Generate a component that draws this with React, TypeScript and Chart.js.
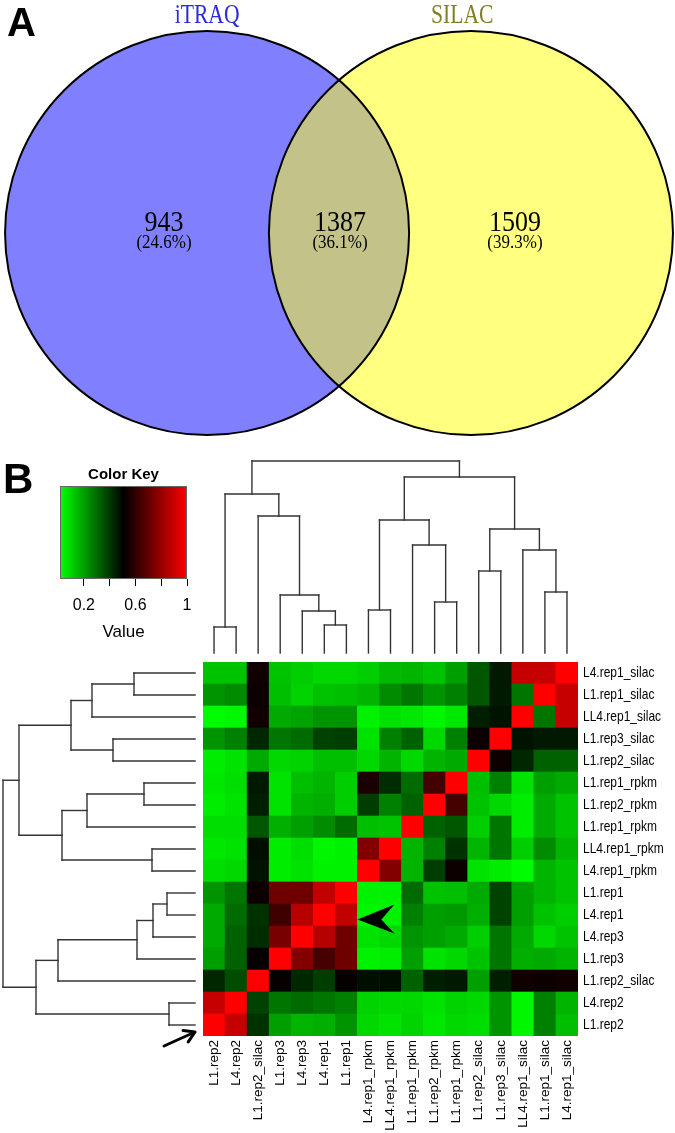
import React, { useEffect, useRef } from "react";
import { Chart, registerables } from "chart.js";
Chart.register(...registerables);

// ---------------- Panel A: Venn data ----------------
const vennSetNames = ["iTRAQ", "SILAC"];
const vennRegionCounts = [943, 1387, 1509]; // iTRAQ only, shared, SILAC only

// ---------------- Panel B: heatmap data ----------------
const rowLabels = [
  "L4.rep1_silac", "L1.rep1_silac", "LL4.rep1_silac", "L1.rep3_silac", "L1.rep2_silac",
  "L1.rep1_rpkm", "L1.rep2_rpkm", "L1.rep1_rpkm", "LL4.rep1_rpkm", "L4.rep1_rpkm",
  "L1.rep1", "L4.rep1", "L4.rep3", "L1.rep3", "L1.rep2_silac", "L4.rep2", "L1.rep2",
];
const colLabels = [
  "L1.rep2", "L4.rep2", "L1.rep2_silac", "L1.rep3", "L4.rep3", "L4.rep1", "L1.rep1",
  "L4.rep1_rpkm", "LL4.rep1_rpkm", "L1.rep1_rpkm", "L1.rep2_rpkm", "L1.rep1_rpkm",
  "L1.rep2_silac", "L1.rep3_silac", "LL4.rep1_silac", "L1.rep1_silac", "L4.rep1_silac",
];
// rows top -> bottom, columns left -> right
const heatValues = [
  [0.13, 0.13, 0.54, 0.13, 0.11, 0.09, 0.09, 0.11, 0.15, 0.16, 0.13, 0.20, 0.34, 0.46, 0.89, 0.89, 1.00],
  [0.22, 0.24, 0.53, 0.14, 0.10, 0.13, 0.14, 0.16, 0.24, 0.28, 0.22, 0.26, 0.34, 0.46, 0.28, 1.00, 0.89],
  [0.02, 0.03, 0.54, 0.18, 0.19, 0.22, 0.22, 0.04, 0.07, 0.06, 0.03, 0.06, 0.45, 0.47, 1.00, 0.28, 0.89],
  [0.22, 0.26, 0.43, 0.28, 0.30, 0.38, 0.39, 0.07, 0.26, 0.32, 0.09, 0.26, 0.53, 1.00, 0.47, 0.46, 0.46],
  [0.05, 0.07, 0.18, 0.09, 0.10, 0.14, 0.14, 0.09, 0.16, 0.09, 0.16, 0.18, 1.00, 0.53, 0.43, 0.32, 0.32],
  [0.06, 0.08, 0.46, 0.07, 0.14, 0.16, 0.11, 0.56, 0.42, 0.30, 0.64, 1.00, 0.14, 0.26, 0.07, 0.20, 0.18],
  [0.05, 0.07, 0.45, 0.07, 0.16, 0.17, 0.11, 0.39, 0.26, 0.32, 1.00, 0.64, 0.13, 0.09, 0.05, 0.18, 0.13],
  [0.08, 0.08, 0.34, 0.17, 0.20, 0.24, 0.30, 0.14, 0.13, 1.00, 0.32, 0.34, 0.11, 0.28, 0.05, 0.18, 0.13],
  [0.06, 0.07, 0.48, 0.05, 0.08, 0.03, 0.04, 0.76, 1.00, 0.16, 0.26, 0.41, 0.16, 0.28, 0.11, 0.24, 0.16],
  [0.08, 0.09, 0.47, 0.05, 0.07, 0.04, 0.04, 1.00, 0.76, 0.16, 0.39, 0.53, 0.07, 0.05, 0.02, 0.16, 0.13],
  [0.22, 0.28, 0.53, 0.72, 0.72, 0.88, 1.00, 0.04, 0.04, 0.30, 0.13, 0.14, 0.18, 0.38, 0.20, 0.16, 0.13],
  [0.18, 0.30, 0.41, 0.63, 0.86, 1.00, 0.88, 0.03, 0.04, 0.26, 0.20, 0.21, 0.17, 0.38, 0.20, 0.13, 0.11],
  [0.18, 0.32, 0.42, 0.74, 1.00, 0.86, 0.72, 0.07, 0.09, 0.22, 0.20, 0.18, 0.11, 0.28, 0.18, 0.09, 0.13],
  [0.20, 0.32, 0.52, 1.00, 0.76, 0.64, 0.72, 0.04, 0.05, 0.20, 0.07, 0.09, 0.13, 0.28, 0.17, 0.18, 0.16],
  [0.43, 0.36, 1.00, 0.52, 0.43, 0.39, 0.52, 0.48, 0.48, 0.32, 0.45, 0.46, 0.20, 0.45, 0.54, 0.53, 0.54],
  [0.89, 1.00, 0.38, 0.28, 0.30, 0.28, 0.26, 0.10, 0.09, 0.09, 0.07, 0.10, 0.09, 0.22, 0.03, 0.26, 0.16],
  [1.00, 0.89, 0.41, 0.20, 0.16, 0.17, 0.22, 0.09, 0.07, 0.10, 0.06, 0.09, 0.08, 0.22, 0.03, 0.26, 0.14],
];
// hierarchical clustering (R hclust style: negative = leaf (row index+1), positive = earlier merge)
const mergePairs = [
  [-1, -2], [-3, 1], [-4, -5], [2, 3], [-6, -7], [-8, 5], [-9, -10], [6, 7], [4, 8],
  [-11, -12], [10, -13], [11, -14], [12, -15], [-16, -17], [13, 14], [9, 15],
];
const mergeHeights = [0.61, 1.03, 0.82, 1.24, 0.51, 1.08, 0.43, 1.33, 1.76, 0.28, 0.42, 0.58, 1.37, 0.26, 1.59, 1.92];

// color key
const keyRange = [0.015, 1.0];
const keyTickValues = [0.2, 0.4, 0.6, 0.8, 1.0];
const keyTickLabels = ["0.2", "", "0.6", "", "1"];

// ---------------- styling / layout constants ----------------
const SANS = "'Liberation Sans', Arial, sans-serif";
const SERIF = "'Liberation Serif', 'Times New Roman', serif";
const VENN = {
  offset: 0.653, radius: 1,
  xMin: -1.678, xMax: 1.663, yMin: -1.049, yMax: 1.154,
  labelX: [-0.866, 0.005, 0.871], countY: 0.05, pctY: -0.049,
  titleX: [-0.653, 0.61], titleY: 1.075,
  fills: ["#8080FF", "#FFFF80"], overlap: "#C2C289",
  titleColors: ["#2B2BD9", "#808026"],
};

function valueToColor(v: number): string {
  const t = Math.max(0, Math.min(1, (v - keyRange[0]) / (keyRange[1] - keyRange[0])));
  if (t < 0.5) {
    const g = Math.round(255 * (1 - t / 0.5));
    return `rgb(0,${g},0)`;
  }
  const r = Math.round(255 * ((t - 0.5) / 0.5));
  return `rgb(${r},0,0)`;
}

function scaledText(
  ctx: CanvasRenderingContext2D, text: string, x: number, y: number, font: string, color: string,
  sx = 1, sy = 1, align: CanvasTextAlign = "center",
) {
  ctx.save();
  ctx.translate(x, y);
  ctx.scale(sx, sy);
  ctx.font = font;
  ctx.fillStyle = color;
  ctx.textAlign = align;
  ctx.textBaseline = "middle";
  ctx.fillText(text, 0, 0);
  ctx.restore();
}

// ---------------- Venn panel ----------------
function VennPanel() {
  const ref = useRef<HTMLCanvasElement>(null);
  useEffect(() => {
    const total = vennRegionCounts.reduce((a, b) => a + b, 0);
    const vennPlugin = {
      id: "venn",
      beforeDatasetsDraw(chart: any) {
        const ctx: CanvasRenderingContext2D = chart.ctx;
        const xs = chart.scales.x, ys = chart.scales.y;
        const px = (v: number) => xs.getPixelForValue(v);
        const py = (v: number) => ys.getPixelForValue(v);
        const rx = px(VENN.radius) - px(0);
        const ry = py(0) - py(VENN.radius);
        const centers = [-VENN.offset, VENN.offset];
        const path = (i: number) => {
          ctx.beginPath();
          ctx.ellipse(px(centers[i]), py(0), rx, ry, 0, 0, Math.PI * 2);
        };
        ctx.save();
        path(0); ctx.fillStyle = VENN.fills[0]; ctx.fill();
        path(1); ctx.fillStyle = VENN.fills[1]; ctx.fill();
        ctx.save(); path(0); ctx.clip(); path(1); ctx.fillStyle = VENN.overlap; ctx.fill(); ctx.restore();
        ctx.lineWidth = 2; ctx.strokeStyle = "#000";
        path(0); ctx.stroke(); path(1); ctx.stroke();
        ctx.restore();
        vennRegionCounts.forEach((c, i) => {
          const x = px(VENN.labelX[i]);
          scaledText(ctx, String(c), x, py(VENN.countY), `26px ${SERIF}`, "#000", 1, 1.12);
          scaledText(ctx, `(${((c / total) * 100).toFixed(1)}%)`, x, py(VENN.pctY), `17px ${SERIF}`, "#000", 1, 1.05);
        });
        vennSetNames.forEach((n, i) => {
          scaledText(ctx, n, px(VENN.titleX[i]), py(VENN.titleY), `24px ${SERIF}`, VENN.titleColors[i], 0.9, 1.15);
        });
        ctx.save();
        ctx.font = `bold 40px ${SANS}`;
        ctx.fillStyle = "#000";
        ctx.textAlign = "left";
        ctx.textBaseline = "alphabetic";
        ctx.fillText("A", chart.chartArea.left + 7, chart.chartArea.top + 36);
        ctx.restore();
      },
    };
    const chart = new Chart(ref.current!, {
      type: "scatter",
      data: { datasets: [{ data: [] }] },
      options: {
        animation: false,
        responsive: false,
        layout: { padding: 0 },
        plugins: { legend: { display: false }, tooltip: { enabled: false } },
        scales: {
          x: { type: "linear", min: VENN.xMin, max: VENN.xMax, display: false },
          y: { type: "linear", min: VENN.yMin, max: VENN.yMax, display: false },
        },
      },
      plugins: [vennPlugin],
    } as any);
    return () => chart.destroy();
  }, []);
  return (
    <div style={{ position: "absolute", left: 0, top: 0, width: 675, height: 445 }}>
      <canvas ref={ref} width={675} height={445} />
    </div>
  );
}

// ---------------- Heatmap panel ----------------
function HeatmapPanel() {
  const ref = useRef<HTMLCanvasElement>(null);
  useEffect(() => {
    const nRows = rowLabels.length;
    const datasets = rowLabels.map((_, k) => {
      const r = nRows - 1 - k; // bottom row stacked first
      return {
        label: rowLabels[r],
        data: colLabels.map(() => 1),
        backgroundColor: heatValues[r].map(valueToColor),
        borderWidth: 0,
        barPercentage: 1,
        categoryPercentage: 1,
        stack: "cells",
      };
    });

    const maxH = Math.max(...mergeHeights);
    const drawDendro = (
      leafPos: (leaf: number) => number,
      seg: (p1: number, h1: number, p2: number, h2: number) => void,
    ) => {
      const pos: number[] = [];
      const hgt: number[] = [];
      mergePairs.forEach(([a, b], i) => {
        const get = (n: number) => (n < 0 ? [leafPos(-n - 1), 0] : [pos[n - 1], hgt[n - 1]]);
        const [pa, ha] = get(a);
        const [pb, hb] = get(b);
        const h = mergeHeights[i];
        seg(pa, ha, pa, h);
        seg(pb, hb, pb, h);
        seg(pa, h, pb, h);
        pos[i] = (pa + pb) / 2;
        hgt[i] = h;
      });
    };

    const heatPlugin = {
      id: "heatExtras",
      afterDraw(chart: any) {
        const ctx: CanvasRenderingContext2D = chart.ctx;
        const xs = chart.scales.x, ys = chart.scales.y;
        const area = chart.chartArea;
        const span = 192;
        const scale = span / maxH;

        // row labels (right side), slightly tall glyphs as in the original
        ys.ticks.forEach((t: any) => {
          const label = rowLabels[nRows - 1 - Math.floor(t.value)];
          scaledText(ctx, label, area.right + 5, ys.getPixelForValue(t.value), `12px ${SANS}`, "#000", 1, 1.2, "left");
        });

        ctx.save();
        ctx.strokeStyle = "#333";
        ctx.lineWidth = 1.4;
        ctx.lineCap = "square";
        const topBase = area.top - 9;
        drawDendro((leaf) => xs.getPixelForValue(nRows - 1 - leaf), (p1, h1, p2, h2) => {
          ctx.beginPath();
          ctx.moveTo(p1, topBase - h1 * scale);
          ctx.lineTo(p2, topBase - h2 * scale);
          ctx.stroke();
        });
        const leftBase = area.left - 8;
        drawDendro((leaf) => ys.getPixelForValue(nRows - 1 - leaf + 0.5), (p1, h1, p2, h2) => {
          ctx.beginPath();
          ctx.moveTo(leftBase - h1 * scale, p1);
          ctx.lineTo(leftBase - h2 * scale, p2);
          ctx.stroke();
        });
        ctx.restore();

        // arrow at bottom-left corner
        ctx.save();
        const tipX = xs.getPixelForValue(-0.5) - 8;
        const tipY = ys.getPixelForValue(0) - 4;
        const tailX = tipX - 31, tailY = tipY + 14;
        ctx.strokeStyle = "#000";
        ctx.lineWidth = 3;
        ctx.lineCap = "round";
        ctx.lineJoin = "round";
        ctx.beginPath();
        ctx.moveTo(tailX, tailY);
        ctx.lineTo(tipX, tipY);
        const ang = Math.atan2(tipY - tailY, tipX - tailX);
        const L = 12;
        ctx.moveTo(tipX - L * Math.cos(ang - 0.55), tipY - L * Math.sin(ang - 0.55));
        ctx.lineTo(tipX, tipY);
        ctx.lineTo(tipX - L * Math.cos(ang + 0.55), tipY - L * Math.sin(ang + 0.55));
        ctx.stroke();
        ctx.restore();

        // filled arrowhead inside the heatmap
        ctx.save();
        const ax = xs.getPixelForValue(6.5);
        const ay = ys.getPixelForValue(5.3);
        ctx.fillStyle = "#000";
        ctx.beginPath();
        ctx.moveTo(ax, ay);
        ctx.lineTo(ax + 37, ay - 15);
        ctx.lineTo(ax + 24, ay);
        ctx.lineTo(ax + 37, ay + 14);
        ctx.closePath();
        ctx.fill();
        ctx.restore();

        ctx.save();
        ctx.font = `bold 42px ${SANS}`;
        ctx.fillStyle = "#000";
        ctx.textAlign = "left";
        ctx.textBaseline = "alphabetic";
        ctx.fillText("B", 3, 53);
        ctx.restore();
      },
    };

    const chart = new Chart(ref.current!, {
      type: "bar",
      data: { labels: colLabels, datasets },
      options: {
        animation: false,
        responsive: false,
        layout: { padding: { left: 203, top: 222, right: 0, bottom: 0 } },
        plugins: { legend: { display: false }, tooltip: { enabled: false } },
        scales: {
          x: {
            type: "category",
            stacked: true,
            position: "bottom",
            grid: { display: false, drawTicks: false },
            border: { display: false },
            ticks: {
              autoSkip: false, minRotation: 90, maxRotation: 90, padding: 4,
              color: "#000", font: { family: SANS, size: 13.5 },
            },
            afterFit: (s: any) => { s.height = 97; },
          },
          y: {
            type: "linear",
            stacked: true,
            position: "right",
            min: 0,
            max: nRows,
            grid: { display: false, drawTicks: false },
            border: { display: false },
            afterBuildTicks: (s: any) => { s.ticks = rowLabels.map((_, i) => ({ value: i + 0.5 })); },
            ticks: { display: false, autoSkip: false },
            afterFit: (s: any) => { s.width = 97; },
          },
        },
      },
      plugins: [heatPlugin],
    } as any);
    return () => chart.destroy();
  }, []);
  return (
    <div style={{ position: "absolute", left: 0, top: 440, width: 675, height: 693 }}>
      <canvas ref={ref} width={675} height={693} />
    </div>
  );
}

// ---------------- Color key ----------------
function ColorKeyPanel() {
  const ref = useRef<HTMLCanvasElement>(null);
  useEffect(() => {
    const gradPlugin = {
      id: "keyGradient",
      beforeDatasetsDraw(chart: any) {
        const ctx: CanvasRenderingContext2D = chart.ctx;
        const a = chart.chartArea;
        const xs = chart.scales.x;
        const g = ctx.createLinearGradient(a.left, 0, a.right, 0);
        const n = 20;
        for (let i = 0; i <= n; i++) {
          const v = keyRange[0] + (keyRange[1] - keyRange[0]) * (i / n);
          const p = (xs.getPixelForValue(v) - a.left) / (a.right - a.left);
          g.addColorStop(Math.max(0, Math.min(1, p)), valueToColor(v));
        }
        ctx.save();
        ctx.fillStyle = g;
        ctx.fillRect(a.left, a.top, a.right - a.left, a.bottom - a.top);
        ctx.strokeStyle = "#666";
        ctx.lineWidth = 1;
        ctx.strokeRect(a.left + 0.5, a.top + 0.5, a.right - a.left - 1, a.bottom - a.top - 1);
        ctx.restore();
      },
    };
    const chart = new Chart(ref.current!, {
      type: "scatter",
      data: { datasets: [{ data: [] }] },
      options: {
        animation: false,
        responsive: false,
        layout: { padding: { left: 60, right: 23, top: 0, bottom: 0 } },
        plugins: {
          legend: { display: false },
          tooltip: { enabled: false },
          title: {
            display: true, text: "Color Key", color: "#000",
            font: { family: SANS, size: 15, weight: "bold" },
            padding: { top: 11, bottom: 2 },
          },
        },
        scales: {
          x: {
            type: "linear", min: keyRange[0], max: keyRange[1],
            afterBuildTicks: (s: any) => { s.ticks = keyTickValues.map((v) => ({ value: v })); },
            ticks: {
              autoSkip: false, maxRotation: 0, padding: 10, color: "#000",
              font: { family: SANS, size: 16 },
              callback: (v: any) => keyTickLabels[keyTickValues.findIndex((k) => Math.abs(k - Number(v)) < 1e-6)] ?? "",
            },
            grid: { display: true, drawOnChartArea: false, drawTicks: true, tickLength: 7, color: "#000" },
            border: { display: false },
            title: { display: true, text: "Value", color: "#000", font: { family: SANS, size: 17 }, padding: { top: 2, bottom: 2 } },
            afterFit: (s: any) => { s.height = 66; },
          },
          y: { display: false, min: 0, max: 1 },
        },
      },
      plugins: [gradPlugin],
    } as any);
    return () => chart.destroy();
  }, []);
  return (
    <div style={{ position: "absolute", left: 0, top: 455, width: 210, height: 190 }}>
      <canvas ref={ref} width={210} height={190} />
    </div>
  );
}

export default function App() {
  return (
    <div style={{ position: "absolute", left: 0, top: 0, width: 675, height: 1133, background: "#fff" }}>
      <VennPanel />
      <HeatmapPanel />
      <ColorKeyPanel />
    </div>
  );
}
